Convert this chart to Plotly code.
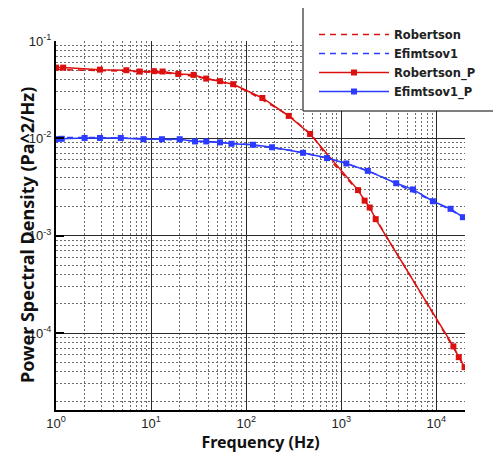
import plotly.graph_objects as go

# ---- data ----
rob_model_f = [1, 2, 5, 10, 20, 50, 100, 200, 300, 500, 700, 1000, 1500, 2000, 3000, 5000, 10000, 20000]
rob_model_p = [0.0510, 0.0505, 0.0490, 0.0477, 0.0457, 0.0392, 0.0310, 0.0210, 0.0163, 0.0106, 0.0066, 0.00447,
               0.00290, 0.00193, 0.00097, 0.00043, 0.000141, 0.0000447]

efi_model_f = [1, 3, 10, 30, 100, 300, 700, 1000, 2000, 3000, 5000, 10000, 20000]
efi_model_p = [0.0102, 0.0102, 0.0099, 0.0094, 0.0087, 0.0075, 0.0063, 0.00575, 0.00455, 0.00383, 0.00300,
               0.00219, 0.00153]

rob_p_f = [1.0, 1.19, 2.9, 5.5, 7.6, 10.7, 13.2, 19.3, 28, 38, 53, 73, 148, 280, 470, 1500, 1760, 1990, 2300,
           15100, 17200, 19800]
rob_p_p = [0.0533, 0.0533, 0.0508, 0.0501, 0.0486, 0.0490, 0.0486, 0.0459, 0.0449, 0.0411, 0.0387, 0.0360,
           0.0260, 0.0170, 0.0111, 0.00294, 0.00229, 0.00195, 0.00148, 0.0000730, 0.0000566, 0.0000447]

efi_p_f = [1.0, 1.15, 2.0, 2.9, 4.8, 8.3, 13, 20, 29, 38, 53, 70, 118, 187, 396, 708, 1130, 1900, 3780, 5670,
           9190, 14100, 19000]
efi_p_p = [0.0098, 0.0099, 0.0101, 0.0101, 0.0101, 0.0098, 0.0098, 0.0098, 0.0093, 0.0093, 0.0091, 0.0088,
           0.0086, 0.0081, 0.0071, 0.00627, 0.00552, 0.00464, 0.00346, 0.00299, 0.00226, 0.00189, 0.00155]

x_ticks = [1, 10, 100, 1000, 10000]
x_tick_labels = ["10<sup>0</sup>", "10<sup>1</sup>", "10<sup>2</sup>", "10<sup>3</sup>", "10<sup>4</sup>"]
y_ticks = [1e-4, 1e-3, 1e-2, 1e-1]
y_tick_labels = ["10<sup>-4</sup>", "10<sup>-3</sup>", "10<sup>-2</sup>", "10<sup>-1</sup>"]

RED = "#dd1010"
BLUE = "#2b3bff"

fig = go.Figure()
fig.add_trace(go.Scatter(x=rob_model_f, y=rob_model_p, name="Robertson", mode="lines",
                         line=dict(color=RED, width=1.5, dash="6px,5px")))
fig.add_trace(go.Scatter(x=efi_model_f, y=efi_model_p, name="Efimtsov1", mode="lines",
                         line=dict(color=BLUE, width=1.5, dash="6px,5px")))
fig.add_trace(go.Scatter(x=rob_p_f, y=rob_p_p, name="Robertson_P", mode="lines+markers",
                         line=dict(color=RED, width=1.5),
                         marker=dict(symbol="square", size=6, color=RED)))
fig.add_trace(go.Scatter(x=efi_p_f, y=efi_p_p, name="Efimtsov1_P", mode="lines+markers",
                         line=dict(color=BLUE, width=1.5),
                         marker=dict(symbol="square", size=6, color=BLUE)))

# page has an 8px body margin: the figure starts at (8, 8) in the window
OFF = 8
W, H = 501 - OFF, 453 - OFF
PL, PR, PT, PB = 56, 465, 41, 410          # plot area in window pixels
L, T = PL - OFF, PT - OFF
R, B = 501 - PR, 453 - PB
pw, ph = PR - PL, PB - PT

def px2x(px):
    return (px - PL) / pw

def py2y(py):
    return (PB - py) / ph

axis_common = dict(
    type="log",
    showline=True, linecolor="black", linewidth=2,
    showgrid=True, gridcolor="#2a2a2a", gridwidth=1,
    zeroline=False, automargin=False,
    tickfont=dict(family="Liberation Sans, Arial, sans-serif", size=13, color="#222"),
    minor=dict(showgrid=True, gridcolor="#6e6e6e", gridwidth=1, griddash="2px,2px", dtick="D1", ticks=""),
)

fig.update_xaxes(**axis_common, range=[0, 4.30103], tickvals=x_ticks, ticktext=x_tick_labels,
                 ticks="", title=dict(text="<b>Frequency (Hz)</b>",
                                      font=dict(family="Noto Sans", size=16, color="#111"), standoff=6))
fig.update_yaxes(**axis_common, range=[-4.79, -1], tickvals=y_ticks, ticktext=y_tick_labels,
                 ticks="inside", ticklen=8, tickwidth=2, tickcolor="black")

fig.add_annotation(text="<b>Power Spectral Density (Pa^2/Hz)</b>", xref="paper", yref="paper",
                   x=px2x(13), y=py2y(235), textangle=-90, showarrow=False,
                   font=dict(family="Noto Sans", size=18, color="#111"))

fig.add_shape(type="rect", xref="paper", yref="paper", x0=px2x(303), x1=px2x(520), y0=py2y(7), y1=py2y(111),
              fillcolor="white", line=dict(color="black", width=1), layer="above")

fig.update_layout(
    width=W, height=H,
    margin=dict(l=L, r=R, t=T, b=B, autoexpand=False),
    paper_bgcolor="white", plot_bgcolor="white",
    showlegend=True,
    legend=dict(x=px2x(314), y=py2y(20), xanchor="left", yanchor="top",
                bgcolor="rgba(0,0,0,0)", borderwidth=0, itemwidth=70, tracegroupgap=0,
                font=dict(family="DejaVu Sans", size=11.5, color="#222", weight="bold"),
                itemclick=False),
)

fig.write_html("out.html")
